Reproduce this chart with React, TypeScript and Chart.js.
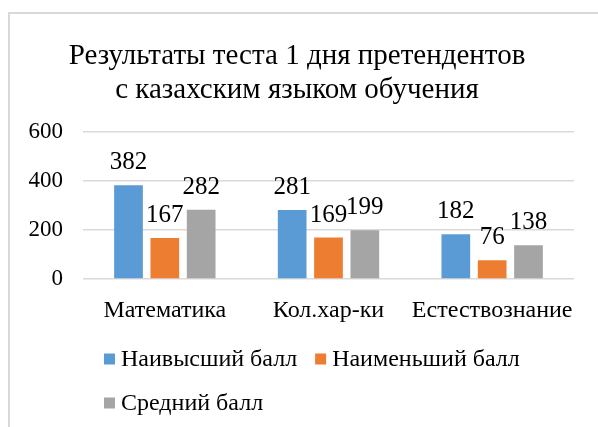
import React, { useEffect, useRef } from "react";
import { Chart, registerables } from "chart.js";

Chart.register(...registerables);

const categories = ["Математика", "Кол.хар-ки", "Естествознание"];
const seriesNames = ["Наивысший балл", "Наименьший балл", "Средний балл"];
const highest = [382, 281, 182];
const lowest = [167, 169, 76];
const average = [282, 199, 138];
const yTicks = [0, 200, 400, 600];
const titleLines = ["Результаты теста 1 дня претендентов", "с казахским языком обучения"];
const colors = ["#5B9BD5", "#ED7D31", "#A5A5A5"];

const FONT = '"Liberation Serif", serif';

const dataLabels = {
  id: "dataLabels",
  afterDatasetsDraw(chart: any) {
    const ctx = chart.ctx;
    ctx.save();
    ctx.font = `normal normal 25px ${FONT}`;
    ctx.fillStyle = "#000";
    ctx.textAlign = "center";
    ctx.textBaseline = "alphabetic";
    chart.data.datasets.forEach((ds: any, i: number) => {
      const meta = chart.getDatasetMeta(i);
      meta.data.forEach((el: any, j: number) => {
        ctx.fillText(String(ds.data[j]), el.x, el.y - 16);
      });
    });
    ctx.restore();
  },
};

const legendPlugin = {
  id: "customLegend",
  afterDraw(chart: any) {
    const ctx = chart.ctx;
    ctx.save();
    ctx.font = `normal normal 24px ${FONT}`;
    ctx.textBaseline = "middle";
    ctx.textAlign = "left";
    const rows = [[0, 1], [2]];
    const x0 = 104;
    const rowY = [359, 403];
    const box = 11;
    const gapText = 6;
    const gapItem = 18;
    rows.forEach((row, r) => {
      let x = x0;
      row.forEach((i) => {
        const ds = chart.data.datasets[i];
        ctx.fillStyle = ds.backgroundColor;
        ctx.fillRect(x, rowY[r] - box / 2, box, box);
        x += box + gapText;
        ctx.fillStyle = "#000";
        ctx.fillText(ds.label, x, rowY[r] + 1);
        x += ctx.measureText(ds.label).width + gapItem;
      });
    });
    ctx.restore();
  },
};

export default function App() {
  const ref = useRef<HTMLCanvasElement | null>(null);

  useEffect(() => {
    if (!ref.current) return;
    const chart = new Chart(ref.current, {
      type: "bar",
      data: {
        labels: categories,
        datasets: [highest, lowest, average].map((d, i) => ({
          label: seriesNames[i],
          data: d,
          backgroundColor: colors[i],
          borderWidth: 0,
        })),
      },
      options: {
        responsive: false,
        animation: false,
        devicePixelRatio: 1,
        layout: { padding: { left: 20, right: 24, top: 0, bottom: 0 } },
        datasets: { bar: { categoryPercentage: 0.666, barPercentage: 0.79 } } as any,
        plugins: {
          legend: { display: false },
          tooltip: { enabled: false },
          title: {
            display: true,
            text: titleLines,
            color: "#000",
            font: { family: FONT, size: 29, weight: "normal", style: "normal", lineHeight: 1.17 } as any,
            padding: { top: 39, bottom: 25 },
          },
        },
        scales: {
          x: {
            grid: { display: false },
            border: { display: false },
            ticks: {
              color: "#000",
              font: { family: FONT, size: 24, weight: "normal", style: "normal" } as any,
              padding: 9,
              maxRotation: 0,
              minRotation: 0,
              autoSkip: false,
            },
            afterFit(s: any) {
              s.height = 148;
            },
          },
          y: {
            min: 0,
            max: 600,
            afterBuildTicks(s: any) {
              s.ticks = yTicks.map((v) => ({ value: v }));
            },
            ticks: { color: "#000", font: { family: FONT, size: 23, weight: "normal", style: "normal" } as any, padding: 20 },
            grid: { color: "#D9D9D9", lineWidth: 1.5, drawTicks: false },
            border: { display: false },
            afterFit(s: any) {
              s.width = 63;
            },
          },
        },
      },
      plugins: [dataLabels, legendPlugin],
    });
    const t = setTimeout(() => chart.update(), 150);
    return () => {
      clearTimeout(t);
      chart.destroy();
    };
  }, []);

  return (
    <div style={{ position: "fixed", left: 0, top: 0, width: 598, height: 427, overflow: "hidden", background: "#fff" }}>
      <span
        style={{ position: "absolute", left: 0, top: 0, fontFamily: '"Liberation Serif"', fontSize: 10, color: "#fff", opacity: 0.01 }}
      >
        x
      </span>
      <div
        style={{
          position: "absolute",
          left: 8,
          top: 12,
          width: 640,
          height: 460,
          border: "2px solid #D9D9D9",
          boxSizing: "border-box",
        }}
      />
      <canvas ref={ref} width={598} height={427} style={{ position: "absolute", left: 0, top: 0 }} />
    </div>
  );
}
